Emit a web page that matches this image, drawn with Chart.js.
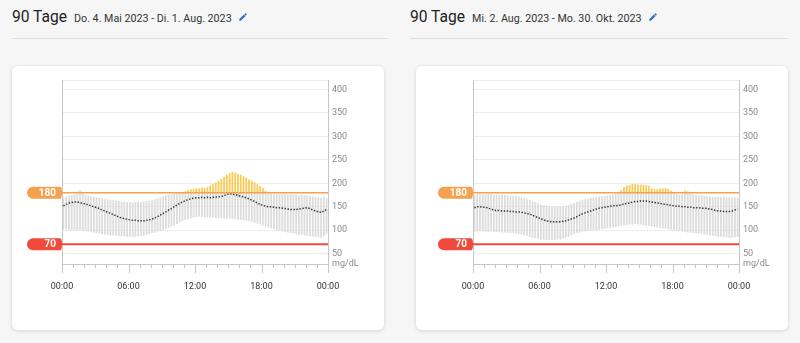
<!DOCTYPE html>
<html lang="de">
<head>
<meta charset="utf-8">
<title>AGP 90 Tage</title>
<script src="https://cdn.jsdelivr.net/npm/chart.js@4.4.0/dist/chart.umd.min.js"></script>
<style>
  html, body { margin: 0; padding: 0; }
  body {
    width: 800px;
    height: 343px;
    background: #f6f6f6;
    font-family: Roboto, "Noto Sans", sans-serif;
    position: relative;
    overflow: hidden;
  }
  .head {
    position: absolute;
    top: 10px;
    display: flex;
    align-items: baseline;
    line-height: 1;
    color: #222;
    white-space: nowrap;
  }
  .head .big { font-size: 15.6px; }
  .head .range { font-size: 10.7px; margin-left: 7px; color: #333; }
  .head svg { margin-left: 6px; width: 10px; height: 10px; fill: #2f6fc9; position: relative; top: 0px; }
  .rule { position: absolute; top: 38px; height: 1px; background: #dedede; }
  .card {
    position: absolute;
    top: 66px;
    width: 372px;
    height: 264px;
    background: #fff;
    border-radius: 6px;
    box-shadow: 0 1px 4px rgba(0, 0, 0, 0.14);
  }
  .card canvas { position: absolute; left: 0; top: 0; }
</style>
</head>
<body>
  <div class="head" style="left:12px">
    <span class="big">90 Tage</span>
    <span class="range">Do. 4. Mai 2023 - Di. 1. Aug. 2023</span>
    <svg viewBox="0 0 24 24"><path d="M3 17.25V21h3.75L17.81 9.94l-3.75-3.75L3 17.25zM20.71 7.04a1 1 0 0 0 0-1.41l-2.34-2.34a1 1 0 0 0-1.41 0l-1.83 1.83 3.75 3.75 1.83-1.83z"/></svg>
  </div>
  <div class="rule" style="left:12px;width:376px"></div>
  <div class="head" style="left:410px">
    <span class="big">90 Tage</span>
    <span class="range">Mi. 2. Aug. 2023 - Mo. 30. Okt. 2023</span>
    <svg viewBox="0 0 24 24"><path d="M3 17.25V21h3.75L17.81 9.94l-3.75-3.75L3 17.25zM20.71 7.04a1 1 0 0 0 0-1.41l-2.34-2.34a1 1 0 0 0-1.41 0l-1.83 1.83 3.75 3.75 1.83-1.83z"/></svg>
  </div>
  <div class="rule" style="left:410px;width:378px"></div>

  <div class="card" style="left:12px"><canvas id="agpMayAug" width="372" height="264"></canvas></div>
  <div class="card" style="left:416px"><canvas id="agpAugOct" width="372" height="264"></canvas></div>

<script>
"use strict";

// 15-minute slots over the day, values in mg/dL
const hourTicks = [0, 1, 2, 3, 4, 5, 6, 7, 8, 9, 10, 11, 12, 13, 14, 15, 16, 17, 18, 19, 20, 21, 22, 23, 24];
const hourLabels = ["00:00", "06:00", "12:00", "18:00", "00:00"];
const yTickValues = [50, 100, 150, 200, 250, 300, 350, 400];
const unitLabel = "mg/dL";
const targetHigh = 180;
const targetLow = 70;

const mayAugLow = [
  102, 101, 101, 100, 100, 99, 99, 98, 98, 97, 96, 95, 94, 93, 92, 91,
  90, 89, 89, 88, 88, 87, 87, 86, 86, 86, 86, 87, 87, 88, 90, 92,
  94, 95, 97, 98, 100, 103, 105, 108, 110, 113, 116, 119, 122, 124, 126, 127,
  128, 129, 128, 128, 128, 127, 127, 126, 126, 126, 125, 125, 125, 124, 123, 122,
  122, 121, 120, 119, 118, 116, 114, 112, 110, 108, 106, 104, 102, 100, 99, 97,
  96, 95, 94, 93, 92, 91, 90, 89, 88, 87, 86, 86, 85, 84, 87, 92
];
const mayAugHigh = [
  170, 172, 174, 175, 177, 182, 184, 178, 175, 174, 172, 171, 170, 169, 168, 167,
  166, 165, 164, 163, 162, 161, 161, 160, 160, 159, 160, 160, 160, 161, 162, 163,
  164, 166, 168, 170, 172, 174, 176, 177, 178, 179, 179, 180, 183, 185, 187, 189,
  190, 189, 191, 190, 192, 195, 198, 201, 205, 209, 214, 218, 222, 224, 223, 220,
  218, 215, 212, 208, 205, 202, 198, 194, 190, 184, 179, 178, 178, 177, 178, 177,
  177, 176, 177, 176, 176, 175, 176, 174, 174, 173, 172, 171, 170, 169, 170, 168
];
const mayAugMedian = [
  152, 155, 158, 159, 160, 160, 159, 157, 156, 154, 152, 150, 148, 146, 143, 141,
  138, 136, 133, 131, 128, 126, 125, 123, 122, 121, 121, 120, 120, 120, 121, 122,
  124, 126, 129, 132, 136, 139, 143, 146, 150, 154, 157, 160, 163, 165, 167, 168,
  169, 169, 170, 169, 170, 169, 170, 171, 171, 172, 174, 176, 178, 177, 176, 174,
  172, 171, 169, 167, 164, 161, 158, 155, 153, 151, 150, 150, 149, 148, 148, 147,
  146, 145, 144, 144, 144, 145, 146, 147, 148, 146, 143, 141, 139, 138, 141, 144
];

const augOctLow = [
  97, 97, 98, 97, 97, 96, 97, 96, 96, 96, 95, 95, 95, 94, 94, 93,
  92, 91, 89, 87, 85, 84, 83, 82, 80, 80, 79, 79, 79, 79, 80, 80,
  82, 84, 86, 89, 92, 94, 95, 97, 98, 99, 99, 100, 100, 101, 102, 103,
  104, 105, 106, 107, 108, 109, 110, 111, 112, 112, 113, 112, 112, 111, 110, 109,
  108, 107, 106, 105, 104, 103, 102, 101, 100, 99, 98, 97, 96, 95, 95, 94,
  94, 93, 92, 91, 90, 89, 88, 87, 86, 86, 85, 85, 84, 84, 85, 86
];
const augOctHigh = [
  176, 177, 178, 177, 177, 178, 177, 176, 176, 175, 176, 175, 174, 174, 173, 173,
  172, 170, 168, 167, 165, 162, 160, 157, 155, 153, 152, 151, 150, 150, 149, 150,
  150, 152, 154, 156, 158, 160, 162, 164, 166, 167, 169, 170, 171, 172, 173, 173,
  174, 175, 176, 178, 179, 186, 192, 195, 196, 199, 198, 197, 197, 196, 196, 194,
  189, 188, 187, 189, 189, 190, 188, 184, 182, 178, 176, 177, 184, 183, 178, 176,
  175, 174, 174, 173, 172, 172, 171, 171, 171, 170, 171, 170, 170, 169, 170, 169
];
const augOctMedian = [
  148, 150, 150, 149, 149, 147, 145, 143, 142, 142, 141, 141, 141, 140, 140, 139,
  139, 138, 137, 135, 134, 132, 129, 127, 124, 122, 120, 119, 118, 118, 118, 118,
  119, 120, 122, 124, 126, 129, 132, 135, 137, 139, 141, 143, 145, 147, 148, 149,
  150, 151, 152, 152, 153, 154, 156, 157, 158, 160, 161, 161, 162, 162, 162, 161,
  160, 159, 158, 157, 156, 155, 154, 153, 152, 151, 151, 150, 150, 149, 149, 148,
  148, 148, 147, 147, 146, 145, 144, 142, 141, 141, 140, 140, 140, 141, 143, 145
];

const colors = {
  range: "#dcdcdc",
  above: "#f9cb55",
  median: "#333333",
  high: "#f4a24f",
  low: "#ef4a3c",
  axis: "#c6c6c6",
  grid: "#ededed",
  tickText: "#8a8a8a",
  hourText: "#333333"
};

const Y_MIN = 28;
const Y_MAX = 420;

// slot centre in hours for bar i
function slotHour(i) {
  return (i + 0.5) / 4;
}

function drawBadge(ctx, right, y, text, fill) {
  const left = right - 35;
  const h = 12;
  const r = 6;
  ctx.fillStyle = fill;
  ctx.beginPath();
  ctx.moveTo(left + r, y - h / 2);
  ctx.lineTo(right - 2, y - h / 2);
  ctx.quadraticCurveTo(right, y - h / 2, right, y);
  ctx.quadraticCurveTo(right, y + h / 2, right - 2, y + h / 2);
  ctx.lineTo(left + r, y + h / 2);
  ctx.arc(left + r, y, r, Math.PI / 2, Math.PI * 1.5);
  ctx.closePath();
  ctx.fill();
  ctx.fillStyle = "#ffffff";
  ctx.font = "bold 10px Roboto, sans-serif";
  ctx.textAlign = "right";
  ctx.textBaseline = "middle";
  ctx.fillText(text, right - 6, y + 0.5);
}

const agpDecor = {
  id: "agpDecor",
  afterDatasetsDraw(chart) {
    const { ctx, chartArea, scales } = chart;
    const x = scales.x;
    const y = scales.y;
    ctx.save();

    // left frame of the plot
    ctx.strokeStyle = colors.axis;
    ctx.lineWidth = 1;
    ctx.beginPath();
    ctx.moveTo(chartArea.left + 0.5, chartArea.top);
    ctx.lineTo(chartArea.left + 0.5, chartArea.bottom);
    ctx.stroke();

    // hour tick marks, longer every six hours
    x.ticks.forEach((t) => {
      const px = Math.round(x.getPixelForValue(t.value)) + 0.5;
      const len = t.value % 6 === 0 ? 9 : 4;
      ctx.beginPath();
      ctx.moveTo(px, chartArea.bottom);
      ctx.lineTo(px, chartArea.bottom + len);
      ctx.stroke();
    });

    // target range limits with their badges
    [[targetHigh, colors.high, 1.5], [targetLow, colors.low, 2]].forEach(([value, color, width]) => {
      const py = y.getPixelForValue(value);
      ctx.strokeStyle = color;
      ctx.lineWidth = width;
      ctx.beginPath();
      ctx.moveTo(chartArea.left - 4, py);
      ctx.lineTo(chartArea.right, py);
      ctx.stroke();
      drawBadge(ctx, chartArea.left, py, String(value), color);
    });

    ctx.restore();
  }
};

function renderAgp(canvasId, low, high, median, padLeft, axisWidth) {
  const rangeData = low.map((v, i) => ({ x: slotHour(i), y: [v, Math.min(high[i], targetHigh)] }));
  const aboveData = [];
  high.forEach((v, i) => {
    if (v > targetHigh) aboveData.push({ x: slotHour(i), y: [targetHigh, v] });
  });
  const medianData = median.map((v, i) => ({ x: slotHour(i), y: v }));

  return new Chart(document.getElementById(canvasId), {
    type: "bar",
    data: {
      datasets: [
        {
          data: rangeData,
          backgroundColor: colors.range,
          grouped: false,
          barPercentage: 0.64,
          categoryPercentage: 1,
          order: 3
        },
        {
          data: aboveData,
          backgroundColor: colors.above,
          grouped: false,
          barPercentage: 0.64,
          categoryPercentage: 1,
          order: 2
        },
        {
          type: "line",
          data: medianData,
          borderColor: colors.median,
          borderWidth: 1.5,
          borderDash: [1.4, 1.6],
          pointRadius: 0,
          tension: 0,
          order: 1
        }
      ]
    },
    options: {
      responsive: false,
      animation: false,
      devicePixelRatio: 1,
      layout: { padding: { left: padLeft, top: 14, right: 0, bottom: 0 } },
      plugins: { legend: { display: false }, tooltip: { enabled: false } },
      scales: {
        x: {
          type: "linear",
          min: 0,
          max: 24,
          offset: false,
          afterBuildTicks: (s) => { s.ticks = hourTicks.map((v) => ({ value: v })); },
          afterFit: (s) => { s.height = 66; },
          ticks: {
            autoSkip: false,
            maxRotation: 0,
            padding: 17,
            color: colors.hourText,
            font: { family: "Roboto", size: 9 },
            callback: (v) => (v % 6 === 0 ? hourLabels[v / 6] : "")
          },
          grid: { drawOnChartArea: false, drawTicks: false },
          border: { color: colors.axis }
        },
        y: {
          position: "right",
          min: Y_MIN,
          max: Y_MAX,
          afterBuildTicks: (s) => { s.ticks = [Y_MIN, ...yTickValues, Y_MAX].map((v) => ({ value: v })); },
          afterFit: (s) => { s.width = axisWidth; },
          ticks: {
            padding: 4,
            color: colors.tickText,
            font: { family: "Roboto", size: 9 },
            callback: (v) => (v === Y_MIN ? unitLabel : v === Y_MAX ? "" : v)
          },
          grid: { color: colors.grid, drawTicks: false },
          border: { color: colors.axis }
        }
      }
    },
    plugins: [agpDecor]
  });
}

renderAgp("agpMayAug", mayAugLow, mayAugHigh, mayAugMedian, 50, 56);
renderAgp("agpAugOct", augOctLow, augOctHigh, augOctMedian, 57, 49);
</script>
</body>
</html>
